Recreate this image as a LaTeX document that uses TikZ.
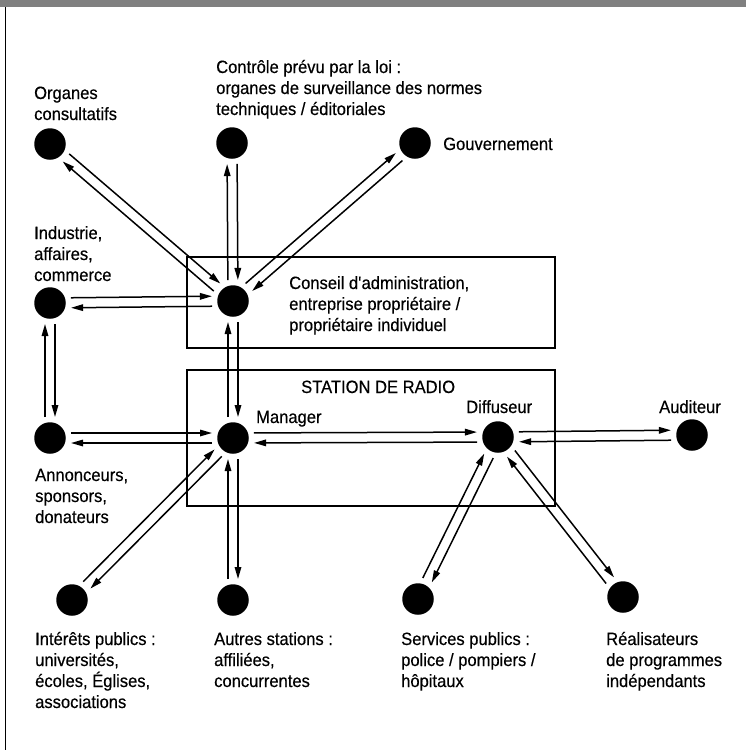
\documentclass[tikz,border=0pt]{standalone}
\usepackage{fontspec}
\setmainfont[FakeStretch=0.93,FakeBold=0.4]{Liberation Sans}
\usetikzlibrary{calc,arrows.meta}
\newcommand\arrgap{21pt}
\newcommand\arroff{5pt}
\newcommand\pairarrows[2]{%
  \draw[conn] ($(#1)!\arrgap!(#2)!\arroff!90:(#2)$) -- ($(#2)!\arrgap!(#1)!\arroff!-90:(#1)$);
  \draw[conn] ($(#2)!\arrgap!(#1)!\arroff!90:(#1)$) -- ($(#1)!\arrgap!(#2)!\arroff!-90:(#2)$);
}
\begin{document}
\begin{tikzpicture}[x=1pt,y=-1pt,
  dot/.style={circle,fill=black,inner sep=0pt,minimum size=31.5pt},
  lbl/.style={anchor=base west,inner sep=0pt,align=left,font=\fontsize{17.8}{21}\selectfont},
  conn/.style={-{Triangle[length=12pt,width=6.5pt]},line width=1.5pt},
  frame/.style={draw=black,line width=1.7pt}]
\useasboundingbox (0,0) rectangle (746,750);
\fill[black!50] (0,0) rectangle (746,7);
\draw[line width=1pt] (5,7) -- (5,750);
% boxes
\draw[frame] (187,257) rectangle (555,348);
\draw[frame] (187,370) rectangle (555,506);
% dots
\node[dot] (org) at (50,144) {};
\node[dot] (ctl) at (232,143) {};
\node[dot] (gov) at (415,143) {};
\node[dot] (cons) at (233,301) {};
\node[dot] (ind) at (50,303) {};
\node[dot] (ann) at (50,438) {};
\node[dot] (man) at (233,438) {};
\node[dot] (dif) at (498,437) {};
\node[dot] (aud) at (692,435) {};
\node[dot] (int) at (72,600) {};
\node[dot] (aut) at (233,600) {};
\node[dot] (ser) at (418,599) {};
\node[dot] (rea) at (623,597) {};
% labels (anchor = baseline of the last line)
\node[lbl] (torg) at (34,120) {Organes\\consultatifs};
\node[lbl] (tctl) at (216,115) {Contrôle prévu par la loi :\\organes de surveillance des normes\\techniques / éditoriales};
\node[lbl] (tgov) at (443,150) {Gouvernement};
\node[lbl] (tind) at (34,281) {Industrie,\\affaires,\\commerce};
\node[lbl] (tcons) at (289,331) {Conseil d\textquotesingle administration,\\entreprise propriétaire /\\propriétaire individuel};
\node[lbl] (tsta) at (301,393) {STATION DE RADIO};
\node[lbl] (tman) at (256,423) {Manager};
\node[lbl] (tdif) at (466,413) {Diffuseur};
\node[lbl] (taud) at (659,413) {Auditeur};
\node[lbl] (tann) at (35,523) {Annonceurs,\\sponsors,\\donateurs};
\node[lbl] (tint) at (35,708) {Intérêts publics :\\universités,\\écoles, Églises,\\associations};
\node[lbl] (taut) at (214,687) {Autres stations :\\affiliées,\\concurrentes};
\node[lbl] (tser) at (401,687) {Services publics :\\police / pompiers /\\hôpitaux};
\node[lbl] (trea) at (606,687) {Réalisateurs\\de programmes\\indépendants};
% connectors
\pairarrows{org}{cons}
\pairarrows{cons}{ctl}
\pairarrows{cons}{gov}
\pairarrows{ind}{cons}
\pairarrows{ind}{ann}
\pairarrows{cons}{man}
\pairarrows{ann}{man}
\pairarrows{man}{dif}
\pairarrows{dif}{aud}
\pairarrows{man}{int}
\pairarrows{man}{aut}
\pairarrows{dif}{ser}
\pairarrows{dif}{rea}
\end{tikzpicture}
\end{document}
